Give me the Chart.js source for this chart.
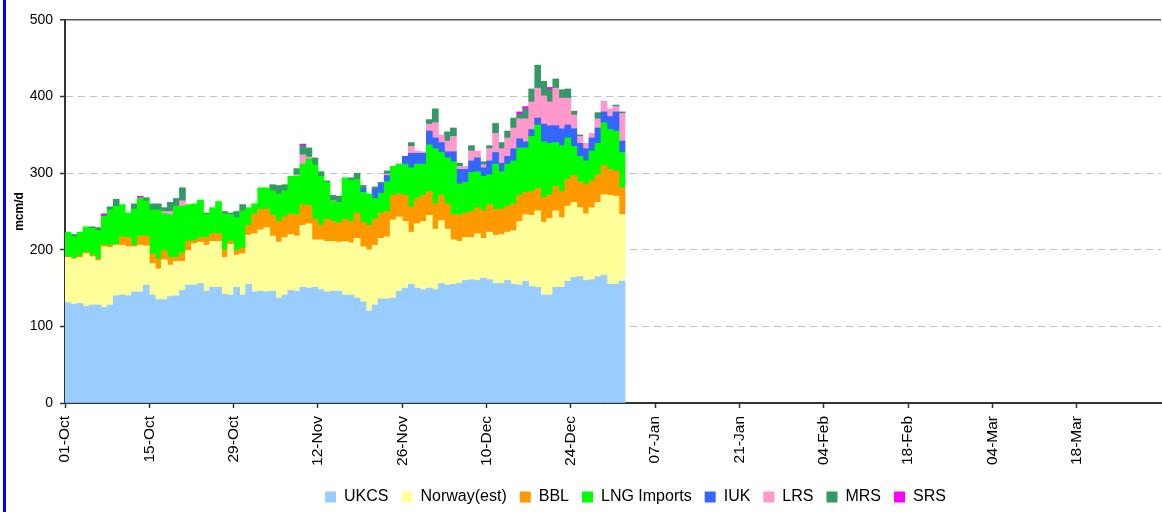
<!DOCTYPE html>
<html>
<head>
<meta charset="utf-8">
<title>Gas supply by source</title>
<script src="https://cdn.jsdelivr.net/npm/chart.js@4.4.1/dist/chart.umd.min.js"></script>
<style>
  html, body { margin: 0; padding: 0; background: #fff; }
  #wrap { position: relative; width: 1162px; height: 512px; overflow: hidden; }
  #edge { position: absolute; left: 3px; top: 0; width: 3px; height: 512px; background: #0000ff; }
</style>
</head>
<body>
<div id="wrap">
  <canvas id="myChart" width="1162" height="512"></canvas>
  <div id="edge"></div>
</div>
<script>
// gas year axis: 01-Oct .. 31-Mar, one bar per day, labels every 14 days
var seasonDays = 182;
var tickStep = 14;
var tickLabels = ['01-Oct','15-Oct','29-Oct','12-Nov','26-Nov','10-Dec','24-Dec','07-Jan','21-Jan','04-Feb','18-Feb','04-Mar','18-Mar'];

var seriesNames = ['UKCS','Norway(est)','BBL','LNG Imports','IUK','LRS','MRS','SRS'];
var seriesColors = ['#99ccff','#ffff99','#ff9900','#00ff00','#3366ff','#ff99cc','#339966','#ff00ff'];

// daily flows, mcm/d, 01-Oct to 01-Jan
var ukcs = [131,129,130,126,128,128,125,128,140,141,140,145,145,154,141,135,135,139,140,147,154,154,156,146,
  151,151,142,141,151,141,155,145,146,145,146,137,141,147,146,151,150,151,148,145,146,146,141,141,
  137,132,120,128,136,136,137,146,150,155,150,148,150,148,156,154,155,156,160,161,160,163,161,156,156,
  160,155,154,159,152,151,141,141,151,151,159,164,165,160,161,165,167,155,155,159];
var norway = [59,59,60,69,63,58,79,75,66,65,64,59,61,51,41,40,52,41,45,38,45,54,54,60,
  60,60,48,66,42,54,64,76,80,84,72,73,75,73,72,81,84,62,65,66,65,64,70,68,
  78,72,80,78,79,81,102,97,87,68,84,89,95,79,82,73,58,55,56,55,61,52,62,63,64,
  63,70,83,87,93,100,95,100,100,91,98,98,90,87,94,97,105,116,115,87];
var bbl = [1,1,2,2,2,2,2,3,1,11,12,2,12,13,13,13,12,10,5,11,12,4,6,10,
  10,10,10,4,6,7,13,26,27,24,27,27,27,27,28,27,24,27,19,29,26,25,29,28,
  33,32,32,34,33,33,32,30,34,33,33,34,31,33,33,33,33,35,32,34,34,36,36,34,33,
  34,35,34,29,31,29,32,31,32,34,35,35,34,38,35,36,38,34,33,35];
var lng = [32,28,31,33,35,37,38,46,50,42,32,47,50,46,57,64,48,56,67,61,48,48,49,30,
  34,42,47,35,43,49,23,13,28,28,32,36,34,49,50,53,61,71,64,48,26,27,54,54,
  44,39,41,27,26,39,38,39,41,51,45,41,61,72,56,60,69,40,40,51,47,45,39,59,49,
  55,56,62,58,72,83,73,67,57,60,54,38,33,31,39,41,56,52,52,46];
var iuk = [0,0,0,0,0,0,0,0,0,0,0,0,0,0,0,0,0,0,0,0,0,0,0,0,
  0,0,0,0,0,0,0,0,0,0,0,0,0,0,0,0,0,0,0,0,0,0,0,0,
  0,5,0,12,12,8,0,0,10,19,14,14,18,14,13,8,13,19,17,15,18,11,18,15,11,
  10,16,12,8,9,9,23,23,22,22,17,23,17,16,17,20,14,17,25,15];
var lrs = [0,0,0,0,0,0,0,0,0,0,0,0,0,0,0,0,3,4,0,7,0,0,0,0,
  0,0,0,0,0,0,0,0,0,0,0,0,0,0,2,12,2,0,0,0,1,0,0,0,
  0,0,0,0,0,2,0,0,0,9,3,2,9,20,10,14,20,4,4,13,9,4,16,25,19,
  24,27,26,30,36,39,37,31,49,40,35,18,9,7,6,12,14,10,7,36];
var mrs = [0,3,0,0,2,4,0,4,9,0,0,7,0,4,8,8,5,12,10,17,0,0,0,2,
  0,0,3,2,8,8,0,0,0,0,8,11,8,0,8,12,12,9,6,2,7,8,0,3,
  8,4,0,3,2,4,0,0,0,5,0,0,6,18,0,12,11,4,0,7,0,4,4,13,8,
  9,13,6,13,17,30,19,16,12,11,12,5,2,0,0,8,0,0,2,2];
var srs = [0,0,0,0,0,0,3,0,0,0,0,0,2,0,0,0,0,0,0,0,0,0,0,0,
  0,0,0,0,0,0,0,0,0,0,0,0,0,0,0,2,0,0,0,0,0,0,0,0,
  0,0,0,0,0,0,0,0,0,0,0,0,0,0,0,0,0,0,0,0,0,0,0,0,0,
  0,0,3,3,0,0,0,3,0,0,0,0,0,0,0,0,0,0,0,0];

var allSeries = [ukcs, norway, bbl, lng, iuk, lrs, mrs, srs];

// each day sits in the middle of its slot on the linear day axis
function toPoints(arr) {
  return arr.map(function (v, i) {
    return { x: i + 0.5, y: v === 0 ? null : v };
  });
}

// legend in the original sits right of centre
var legendShift = {
  id: 'legendShift',
  afterLayout: function (chart) {
    chart.legend.left += 55;
    chart.legend.right += 55;
  }
};

Chart.defaults.font.family = '"Liberation Sans", Arial, sans-serif';
Chart.defaults.color = '#000';

var ctx = document.getElementById('myChart').getContext('2d');
var chart = new Chart(ctx, {
  type: 'bar',
  data: {
    datasets: allSeries.map(function (arr, k) {
      return {
        label: seriesNames[k],
        data: toPoints(arr),
        backgroundColor: seriesColors[k],
        borderWidth: 0,
        barPercentage: 1,
        categoryPercentage: 1
      };
    })
  },
  options: {
    responsive: false,
    animation: false,
    layout: { padding: { left: 0, right: 1, top: 20, bottom: -3 } },
    plugins: {
      tooltip: { enabled: false },
      legend: {
        position: 'bottom',
        labels: {
          boxWidth: 11,
          boxHeight: 11,
          padding: 13,
          color: '#000',
          font: { size: 16 }
        }
      }
    },
    scales: {
      x: {
        type: 'linear',
        min: 0,
        max: seasonDays,
        stacked: true,
        offset: false,
        ticks: {
          stepSize: tickStep,
          autoSkip: false,
          minRotation: 90,
          maxRotation: 90,
          padding: 8,
          color: '#000',
          font: { size: 15.5 },
          callback: function (v) {
            var lab = tickLabels[v / tickStep];
            return lab === undefined ? null : lab;
          }
        },
        grid: {
          offset: false,
          drawOnChartArea: false,
          drawTicks: true,
          tickLength: 5,
          tickColor: '#333',
          tickWidth: 1.5
        },
        border: { color: '#333', width: 2 },
        afterFit: function (s) { s.height = 73; }
      },
      y: {
        min: 0,
        max: 500,
        stacked: true,
        ticks: {
          stepSize: 100,
          padding: 7,
          color: '#000',
          font: { size: 14 }
        },
        grid: {
          color: function (c) {
            if (c.tick.value === 500) return '#555';
            if (c.tick.value === 0) return 'rgba(0,0,0,0)';
            return '#c0c0c0';
          },
          lineWidth: function (c) { return c.tick.value === 500 ? 1.5 : 1; },
          tickLength: 5,
          tickColor: '#333',
          tickWidth: 1.5
        },
        border: {
          color: '#333',
          width: 2,
          dash: function (c) { return (c.tick && c.tick.value === 500) ? [] : [7, 5]; }
        },
        title: {
          display: true,
          text: 'mcm/d',
          color: '#000',
          font: { size: 12, weight: 'bold' },
          padding: { top: 12, bottom: 0 }
        },
        afterFit: function (s) { s.width = 65; }
      }
    }
  },
  plugins: [legendShift]
});
</script>
</body>
</html>
